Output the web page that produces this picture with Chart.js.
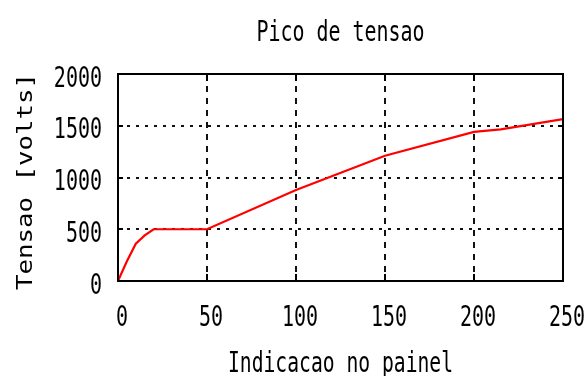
<!DOCTYPE html>
<html>
<head>
<meta charset="utf-8">
<script src="https://cdn.jsdelivr.net/npm/chart.js@4/dist/chart.umd.min.js"></script>
<style>
  html, body { margin: 0; padding: 0; background: #fff; }
  #wrap { width: 585px; height: 376px; }
</style>
</head>
<body>
<div id="wrap"><canvas id="c" width="585" height="376"></canvas></div>
<script>
// Pico de tensao vs. indicacao no painel
const indicacao = [0, 5, 10, 15, 20, 50, 100, 150, 200, 215, 250];
const tensao    = [0, 190, 360, 440, 500, 500, 880, 1210, 1440, 1465, 1565];

const xTicks = [0, 50, 100, 150, 200, 250];
const yTicks = [0, 500, 1000, 1500, 2000];

const titulo = 'Pico de tensao';
const tituloX = 'Indicacao no painel';
const tituloY = 'Tensao [volts]';

const FONT = '"DejaVu Sans Mono", "Liberation Mono", monospace';
const SIZE = 20;
const STRETCH = 1.4;

// text drawn taller than wide, like the bitmap terminal font
function tallText(ctx, text, x, baseline, align, width) {
  ctx.save();
  ctx.font = SIZE + 'px ' + FONT;
  ctx.fillStyle = '#000';
  ctx.textAlign = align;
  ctx.textBaseline = 'alphabetic';
  ctx.translate(x, baseline);
  const sx = width ? width / ctx.measureText(text).width : 1;
  ctx.scale(sx, STRETCH);
  ctx.fillText(text, 0, 0);
  ctx.restore();
}

const gnuFrame = {
  id: 'gnuFrame',
  afterDraw(chart) {
    const ctx = chart.ctx;
    const a = chart.chartArea;
    const xs = chart.scales.x, ys = chart.scales.y;

    // frame
    ctx.save();
    ctx.strokeStyle = '#000';
    ctx.lineWidth = 2;
    ctx.setLineDash([]);
    ctx.strokeRect(a.left, a.top, a.right - a.left, a.bottom - a.top);

    // inward tick marks on all four sides
    ctx.beginPath();
    xTicks.forEach(v => {
      const px = Math.round(xs.getPixelForValue(v));
      ctx.moveTo(px, a.bottom); ctx.lineTo(px, a.bottom - 7);
      ctx.moveTo(px, a.top); ctx.lineTo(px, a.top + 7);
    });
    yTicks.forEach(v => {
      const py = Math.round(ys.getPixelForValue(v));
      ctx.moveTo(a.left, py); ctx.lineTo(a.left + 5, py);
      ctx.moveTo(a.right, py); ctx.lineTo(a.right - 5, py);
    });
    ctx.stroke();
    ctx.restore();

    // tick labels
    xTicks.forEach(v => {
      tallText(ctx, String(v), xs.getPixelForValue(v) + 4, a.bottom + 45, 'center');
    });
    yTicks.forEach(v => {
      tallText(ctx, String(v), 102, ys.getPixelForValue(v) + 12.5, 'right');
    });

    // titles, centred over the plot
    const cx = (a.left + a.right) / 2;
    tallText(ctx, titulo, cx, 41, 'center', 168);
    tallText(ctx, tituloX, cx, 371.5, 'center', 225);

    // rotated y title
    ctx.save();
    ctx.font = '22px ' + FONT;
    ctx.fillStyle = '#000';
    ctx.textAlign = 'center';
    ctx.textBaseline = 'alphabetic';
    const w = ctx.measureText(tituloY).width;
    ctx.translate(31.5, 181.5);
    ctx.rotate(-Math.PI / 2);
    ctx.scale(217 / w, 1);
    ctx.fillText(tituloY, 0, 0);
    ctx.restore();
  }
};

function gridColor(c, max) {
  const v = c.tick ? c.tick.value : null;
  return (v === 0 || v === max) ? 'rgba(0,0,0,0)' : '#111';
}

new Chart(document.getElementById('c'), {
  type: 'line',
  data: {
    datasets: [{
      data: indicacao.map((x, i) => ({ x: x, y: tensao[i] })),
      borderColor: '#ff0000',
      borderWidth: 2.2,
      pointRadius: 0,
      tension: 0,
      fill: false
    }]
  },
  options: {
    responsive: false,
    animation: false,
    events: [],
    layout: { padding: { left: 118, right: 22, top: 74, bottom: 95 } },
    plugins: { legend: { display: false }, tooltip: { enabled: false }, title: { display: false } },
    scales: {
      x: {
        type: 'linear',
        min: 0, max: 250,
        afterBuildTicks: s => { s.ticks = xTicks.map(v => ({ value: v })); },
        ticks: { display: false },
        grid: { drawTicks: false, lineWidth: 2, color: c => gridColor(c, 250) },
        border: { display: false, dash: [6, 6] }
      },
      y: {
        type: 'linear',
        min: 0, max: 2000,
        afterBuildTicks: s => { s.ticks = yTicks.map(v => ({ value: v })); },
        ticks: { display: false },
        grid: { drawTicks: false, lineWidth: 2, color: c => gridColor(c, 2000) },
        border: { display: false, dash: [3, 6] }
      }
    }
  },
  plugins: [gnuFrame]
});
</script>
</body>
</html>
